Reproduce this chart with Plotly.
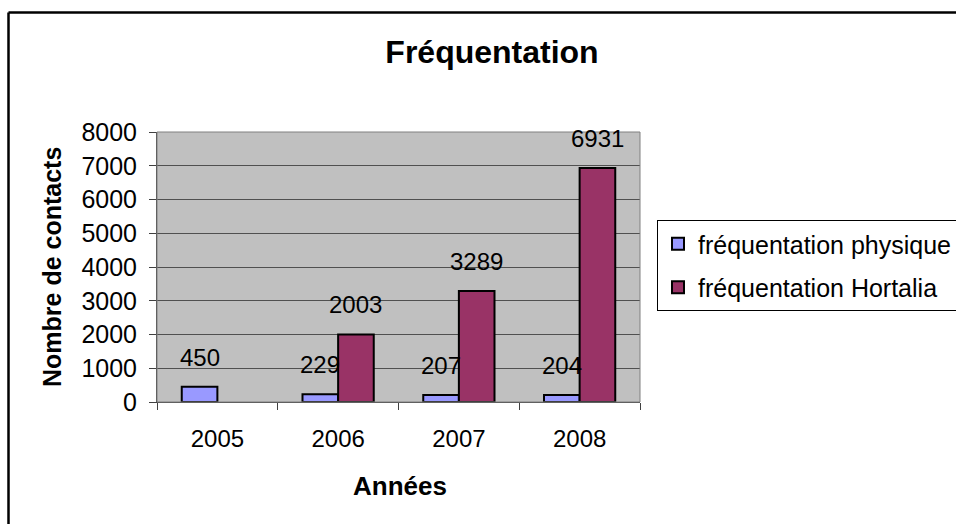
import plotly.graph_objects as go

years = ["2005", "2006", "2007", "2008"]
physique = [450, 229, 207, 204]
hortalia = [None, 2003, 3289, 6931]
series_names = ["fréquentation physique", "fréquentation Hortalia"]
colors = ["#9999FF", "#993366"]
title_text = "Fréquentation"
y_title = "Nombre de contacts"
x_title = "Années"
y_ticks = [0, 1000, 2000, 3000, 4000, 5000, 6000, 7000, 8000]

W, H = 956, 524
L, R, T, B = 157, 640, 132, 402
pw, ph = R - L, B - T
bargap = 0.41

def px(x):
    return (x - L) / pw

def py(y):
    return (B - y) / ph

FONT = "Liberation Sans, Arial, sans-serif"

fig = go.Figure()
for i, (name, vals) in enumerate(zip(series_names, [physique, hortalia])):
    fig.add_trace(go.Bar(
        x=years, y=vals, name=name,
        marker=dict(color=colors[i], line=dict(color="black", width=2)),
        legendgroup=f"g{i}",
    ))

bar_px = pw / len(years) * (1 - bargap) / 2
annotations = []
for i, vals in enumerate([physique, hortalia]):
    shift = -bar_px / 2 if i == 0 else bar_px / 2
    for k, v in enumerate(vals):
        if v is None:
            continue
        annotations.append(dict(
            x=k, y=v, xref="x", yref="y", text=str(v), showarrow=False,
            xshift=shift, yshift=14, yanchor="bottom",
            font=dict(family=FONT, size=24, color="black"),
        ))

annotations.append(dict(
    x=px(52), y=0.5, xref="paper", yref="paper", text=y_title, textangle=-90,
    showarrow=False, xanchor="center", yanchor="middle",
    font=dict(family=FONT, size=25, color="black", weight="bold"),
))
annotations.append(dict(
    x=px(400), y=py(486), xref="paper", yref="paper", text=x_title,
    showarrow=False, xanchor="center", yanchor="middle",
    font=dict(family=FONT, size=26, color="black", weight="bold"),
))

shapes = [
    dict(type="line", xref="paper", yref="paper", x0=px(8.5), x1=px(1000),
         y0=py(12.5), y1=py(12.5), line=dict(color="black", width=2.5)),
    dict(type="line", xref="paper", yref="paper", x0=px(8.5), x1=px(8.5),
         y0=py(12.5), y1=py(600), line=dict(color="black", width=2.5)),
]

fig.update_layout(
    width=W, height=H,
    margin=dict(l=L, r=W - R, t=T, b=H - B, autoexpand=False),
    paper_bgcolor="white", plot_bgcolor="#C0C0C0",
    barmode="group", bargap=bargap, bargroupgap=0,
    title=dict(text=title_text, x=492 / W, y=1 - 52 / H, xref="container", yref="container",
               xanchor="center", yanchor="middle",
               font=dict(family=FONT, size=32, color="black", weight="bold")),
    font=dict(family=FONT, color="black"),
    legend=dict(x=px(657), y=py(220), xanchor="left", yanchor="top",
                bgcolor="white", bordercolor="black", borderwidth=1,
                font=dict(family=FONT, size=25, color="black"),
                tracegroupgap=8),
    annotations=annotations, shapes=shapes,
    showlegend=True,
)
fig.update_xaxes(
    type="category", showgrid=False, showline=True, linecolor="#404040", linewidth=1,
    ticks="outside", ticklen=7, tickcolor="#404040", tickson="boundaries",
    tickfont=dict(family=FONT, size=24, color="black"), mirror=False,
    range=[-0.5, 3.5], ticklabelstandoff=15,
)
fig.update_yaxes(
    range=[0, 8000], tickvals=y_ticks, showgrid=True, gridcolor="#505050", gridwidth=1,
    showline=True, linecolor="#404040", linewidth=1, ticks="outside", ticklen=7,
    tickcolor="#404040", tickfont=dict(family=FONT, size=25, color="black"),
    zeroline=False, ticklabelstandoff=7,
)
fig.add_shape(type="rect", xref="paper", yref="paper", x0=0, x1=1, y0=0, y1=1,
              line=dict(color="#808080", width=1), layer="above")

fig.write_html("out.html", config={"displayModeBar": False},
               post_script="document.body.style.margin='0';document.body.style.overflow='hidden';")
